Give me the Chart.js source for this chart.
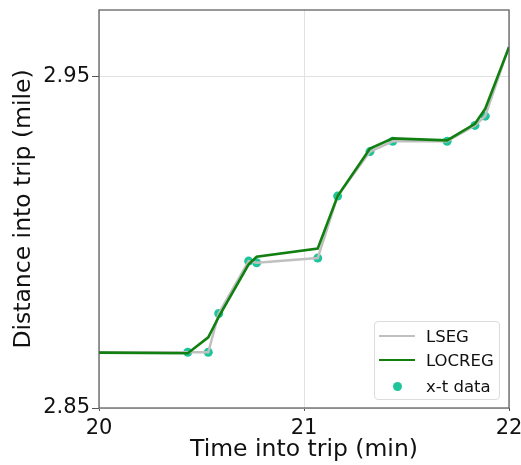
<!DOCTYPE html>
<html>
<head>
<meta charset="utf-8">
<script src="https://cdn.jsdelivr.net/npm/chart.js@4/dist/chart.umd.min.js"></script>
<style>
  html, body { margin: 0; padding: 0; background: #fff; }
  #wrap { position: relative; width: 521px; height: 465px; }
  #legend {
    position: absolute; left: 374px; top: 321px; width: 126px; height: 79px;
    border: 1px solid #dcdcdc; border-radius: 4px; background: rgba(255,255,255,0.8);
    font-family: 'DejaVu Sans', sans-serif; font-size: 16.5px; color: #111; box-sizing: border-box;
  }
  .row { position: absolute; left: 0; height: 20px; display: flex; align-items: center; }
  .sw { width: 36px; margin-left: 4px; margin-right: 11px; display: flex; justify-content: center; align-items: center; }
  .ln { width: 36px; height: 0; border-top-width: 2.5px; border-top-style: solid; }
  .dot { width: 9px; height: 9px; border-radius: 50%; background: #1fc59a; }
</style>
</head>
<body>
<div id="wrap">
  <canvas id="c" width="521" height="465"></canvas>
  <div id="legend">
    <div class="row" style="top:4px"><div class="sw"><div class="ln" style="border-top-color:#c0c0c0"></div></div><span>LSEG</span></div>
    <div class="row" style="top:28px"><div class="sw"><div class="ln" style="border-top-color:#118011"></div></div><span>LOCREG</span></div>
    <div class="row" style="top:54px"><div class="sw"><div class="dot"></div></div><span>x-t data</span></div>
  </div>
</div>
<script>
// Observed x-t data
const dataTimes = [20.433, 20.533, 20.584, 20.730, 20.769, 21.067, 21.164, 21.322, 21.433, 21.698, 21.834, 21.884];
const dataDist  = [2.8668, 2.8668, 2.8785, 2.8943, 2.8938, 2.8952, 2.9139, 2.9273, 2.9304, 2.9304, 2.9352, 2.9380];

// LSEG (linear segments)
const lsegTimes = [20.0, 20.433, 20.533, 20.584, 20.730, 20.769, 21.067, 21.164, 21.322, 21.433, 21.698, 21.834, 21.884, 22.0];
const lsegDist  = [2.8668, 2.8668, 2.8668, 2.8785, 2.8943, 2.8938, 2.8952, 2.9139, 2.9273, 2.9304, 2.9304, 2.9352, 2.9380, 2.9590];

// LOCREG (local regression)
const locTimes = [20.0, 20.433, 20.533, 20.584, 20.730, 20.769, 21.067, 21.164, 21.322, 21.433, 21.698, 21.834, 21.884, 22.0];
const locDist  = [2.8667, 2.8665, 2.8713, 2.8775, 2.8933, 2.8956, 2.8981, 2.9139, 2.9282, 2.9313, 2.9307, 2.9357, 2.9402, 2.9588];

const xTicks = [20, 21, 22];
const yTicks = [2.85, 2.95];
const xRange = [20, 22];
const yRange = [2.85, 2.97];

const pts = (xs, ys) => xs.map((x, i) => ({ x: x, y: ys[i] }));

const frame = {
  id: 'frame',
  afterDatasetsDraw(chart) {
    const a = chart.chartArea, ctx = chart.ctx;
    ctx.save();
    ctx.strokeStyle = '#555';
    ctx.lineWidth = 1.2;
    ctx.strokeRect(a.left, a.top, a.right - a.left, a.bottom - a.top);
    ctx.restore();
  }
};

const font = { family: "'DejaVu Sans', sans-serif" };

new Chart(document.getElementById('c'), {
  type: 'scatter',
  data: {
    datasets: [
      { label: 'x-t data', data: pts(dataTimes, dataDist), order: 3,
        pointRadius: 4.5, pointBackgroundColor: '#1fc59a', pointBorderWidth: 0, showLine: false },
      { label: 'LSEG', data: pts(lsegTimes, lsegDist), order: 2, showLine: true,
        borderColor: '#c0c0c0', borderWidth: 2.5, pointRadius: 0, tension: 0 },
      { label: 'LOCREG', data: pts(locTimes, locDist), order: 1, showLine: true,
        borderColor: '#118011', borderWidth: 2.6, pointRadius: 0, tension: 0 }
    ]
  },
  options: {
    responsive: false,
    animation: false,
    layout: { padding: { top: 10, right: 12, left: 0, bottom: 0 } },
    plugins: { legend: { display: false }, tooltip: { enabled: false } },
    scales: {
      x: {
        type: 'linear', min: xRange[0], max: xRange[1],
        afterBuildTicks: s => { s.ticks = xTicks.map(v => ({ value: v })); },
        afterFit: s => { s.height = 57; s.paddingLeft = 0; s.paddingRight = 0; },
        ticks: { font: { ...font, size: 21 }, color: '#111', padding: 5, maxRotation: 0,
                 callback: v => String(v) },
        grid: { color: '#e2e2e2', lineWidth: 1, tickLength: 3, tickColor: '#555' },
        border: { display: false },
        title: { display: true, text: 'Time into trip (min)', color: '#111',
                 font: { ...font, size: 23.5, lineHeight: 1.2 }, padding: { top: 0, bottom: 1 } }
      },
      y: {
        type: 'linear', min: yRange[0], max: yRange[1],
        afterBuildTicks: s => { s.ticks = yTicks.map(v => ({ value: v })); },
        afterFit: s => { s.width = 99; s.paddingTop = 0; s.paddingBottom = 0; },
        ticks: { font: { ...font, size: 21 }, color: '#111', padding: 2,
                 callback: v => v.toFixed(2) },
        grid: { color: '#e2e2e2', lineWidth: 1, tickLength: 7, tickColor: '#555' },
        border: { display: false },
        title: { display: true, text: 'Distance into trip (mile)', color: '#111',
                 font: { ...font, size: 23.5, lineHeight: 1.2 }, padding: { top: 10, bottom: 0 } }
      }
    }
  },
  plugins: [frame]
});
</script>
</body>
</html>
